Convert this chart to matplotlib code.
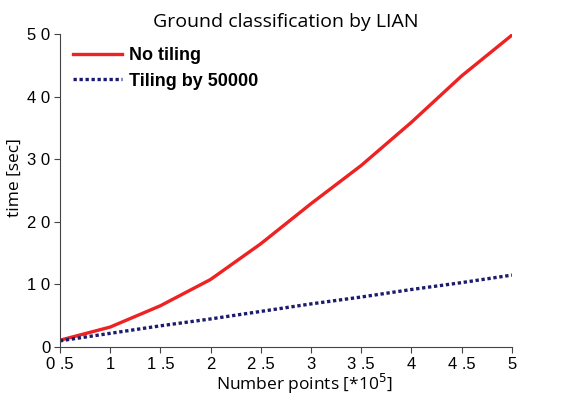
import matplotlib
matplotlib.use("Agg")
import matplotlib.pyplot as plt

# data
n_points = [0.5, 1, 1.5, 2, 2.5, 3, 3.5, 4, 4.5, 5]
no_tiling = [1.1, 3.2, 6.6, 10.8, 16.5, 22.9, 29.0, 35.9, 43.3, 49.8]
tiling = [1.0, 2.2, 3.4, 4.5, 5.7, 6.9, 8.0, 9.2, 10.3, 11.5]

xticks = [0.5, 1, 1.5, 2, 2.5, 3, 3.5, 4, 4.5, 5]
xtick_labels = ["0 .5", "1", "1 .5", "2", "2 .5", "3", "3 .5", "4", "4 .5", "5"]
yticks = [0, 10, 20, 30, 40, 50]
ytick_labels = ["0", "1 0", "2 0", "3 0", "4 0", "5 0"]

fig = plt.figure(figsize=(5.65, 3.99), dpi=100)
ax = fig.add_axes([0.106, 0.130, 0.800, 0.785])

ax.plot(n_points, no_tiling, color="#ee2222", lw=2.4, label="No tiling")
ax.plot(n_points, tiling, color="#1c1c6e", lw=2.4, ls=(0, (1, 0.8)), label="Tiling by 50000")

ax.set_xlim(0.5, 5)
ax.set_ylim(0, 50)
ax.set_xticks(xticks)
ax.set_xticklabels(xtick_labels, fontfamily="Liberation Sans", fontsize=12)
ax.set_yticks(yticks)
ax.set_yticklabels(ytick_labels, fontfamily="Liberation Sans", fontsize=12)
ax.tick_params(direction="out", length=4, width=0.8, color="#444444", pad=3)

for s in ["top", "right"]:
    ax.spines[s].set_visible(False)
for s in ["left", "bottom"]:
    ax.spines[s].set_color("#444444")
    ax.spines[s].set_linewidth(0.8)

ax.set_title("Ground classification by LIAN", fontfamily="Open Sans", fontsize=14, pad=5)
ax.set_xlabel("Number points [*10$^{5}$]", fontfamily="Open Sans", fontsize=12.5)
ax.set_ylabel("time [sec]", fontfamily="Open Sans", fontsize=12.5)
ax.xaxis.set_label_coords(0.54, -0.08)
ax.yaxis.set_label_coords(-0.082, 0.54)

leg = ax.legend(loc="upper left", frameon=False, handlelength=2.7, handletextpad=0.4,
                borderaxespad=0.35, labelspacing=0.45,
                prop={"family": "Liberation Sans", "weight": "bold", "size": 13})

fig.savefig("out.png", dpi=100)
